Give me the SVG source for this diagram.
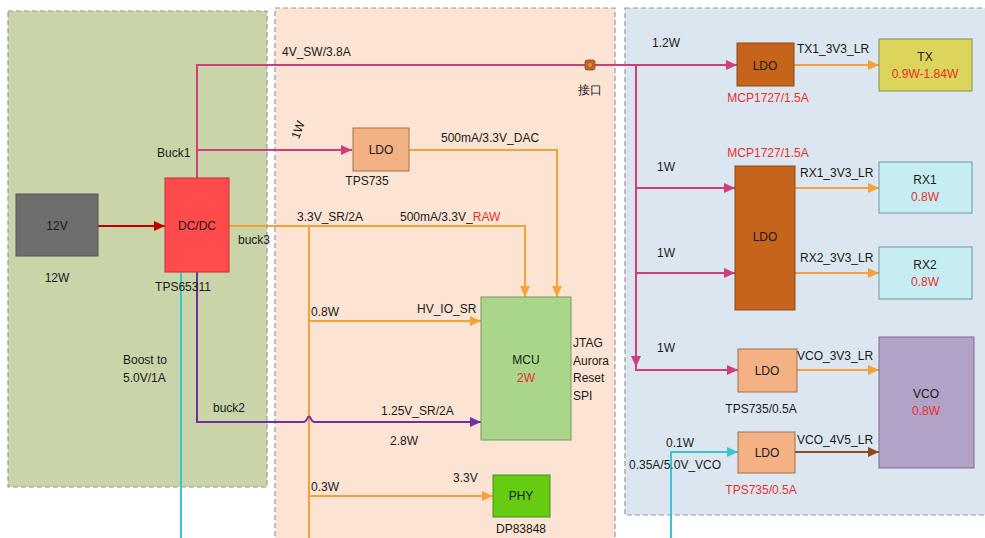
<svg xmlns="http://www.w3.org/2000/svg" width="985" height="538" viewBox="0 0 985 538">
<style>
text{font-family:"Liberation Sans",Arial,sans-serif;font-size:12px;fill:#1a1a1a}
.c{text-anchor:middle}
.r{fill:#e8302a}
.panel{stroke:#9a9a9a;stroke-width:1.2;stroke-dasharray:5,3}
.box{stroke-width:1}
.w{fill:none;stroke-width:2}
.pk{stroke:#cc3f7a}
.or{stroke:#f4a13a}
.pu{stroke:#7030a0}
.cy{stroke:#3cc4d4}
.br{stroke:#8b4a1c}
.dr{stroke:#c00000}
</style>
<defs>
<marker id="aPk" markerUnits="userSpaceOnUse" markerWidth="12" markerHeight="10" refX="11" refY="5" orient="auto"><path d="M0,0 L11,5 L0,10 z" fill="#cc3f7a"/></marker>
<marker id="aOr" markerUnits="userSpaceOnUse" markerWidth="12" markerHeight="10" refX="11" refY="5" orient="auto"><path d="M0,0 L11,5 L0,10 z" fill="#f4a13a"/></marker>
<marker id="aPu" markerUnits="userSpaceOnUse" markerWidth="12" markerHeight="10" refX="11" refY="5" orient="auto"><path d="M0,0 L11,5 L0,10 z" fill="#7030a0"/></marker>
<marker id="aCy" markerUnits="userSpaceOnUse" markerWidth="12" markerHeight="10" refX="11" refY="5" orient="auto"><path d="M0,0 L11,5 L0,10 z" fill="#3cc4d4"/></marker>
<marker id="aBr" markerUnits="userSpaceOnUse" markerWidth="12" markerHeight="10" refX="11" refY="5" orient="auto"><path d="M0,0 L11,5 L0,10 z" fill="#8b4a1c"/></marker>
<marker id="aDr" markerUnits="userSpaceOnUse" markerWidth="12" markerHeight="10" refX="11" refY="5" orient="auto"><path d="M0,0 L11,5 L0,10 z" fill="#c00000"/></marker>
</defs>
<rect width="985" height="538" fill="#ffffff"/>
<g id="panels">
<rect class="panel" x="8" y="11" width="259" height="476" fill="#c9d5a8"/>
<rect class="panel" x="275" y="8" width="340" height="540" fill="#fbe4d4"/>
<rect class="panel" x="625" y="8" width="370" height="507" fill="#dce6f0"/>
</g>
<g id="connectors">
<path class="w dr" d="M98,226 H165" marker-end="url(#aDr)"/>
<path class="w pk" d="M197,178 V65 H737" marker-end="url(#aPk)"/>
<path class="w pk" d="M197,150 H352" marker-end="url(#aPk)"/>
<path class="w pk" d="M636,65 V370 H738" marker-end="url(#aPk)"/>
<path d="M631,356 L641,356 L636,367 z" fill="#cc3f7a"/>
<path class="w pk" d="M636,188 H735" marker-end="url(#aPk)"/>
<path class="w pk" d="M636,273 H735" marker-end="url(#aPk)"/>
<path class="w or" d="M229,226 H525 V297" marker-end="url(#aOr)"/>
<path class="w or" d="M409,150 H557 V297" marker-end="url(#aOr)"/>
<path class="w or" d="M309,226 V538"/>
<path class="w or" d="M309,321 H481" marker-end="url(#aOr)"/>
<path class="w or" d="M309,496 H493" marker-end="url(#aOr)"/>
<path class="w pu" d="M197,272 V422 H303 Q306,422 307,419 Q309,414 311,419 Q312,422 315,422 H481" marker-end="url(#aPu)"/>
<path class="w cy" d="M181,272 V538"/>
<path class="w cy" d="M671,538 V452 H738" marker-end="url(#aCy)"/>
<path class="w or" d="M794,65 H879" marker-end="url(#aOr)"/>
<path class="w or" d="M795,188 H879" marker-end="url(#aOr)"/>
<path class="w or" d="M795,273 H879" marker-end="url(#aOr)"/>
<path class="w or" d="M797,370 H879" marker-end="url(#aOr)"/>
<path class="w br" d="M795,452 H879" marker-end="url(#aBr)"/>
</g>
<g id="n12v">
<rect class="box" x="16" y="194" width="82" height="62" fill="#6e6e6e" stroke="#555"/>
<text class="c" x="57" y="230">12V</text>
<text class="c" x="57" y="282">12W</text>
</g>
<g id="ndcdc">
<rect class="box" x="165" y="178" width="64" height="94" fill="#ff4b4b" stroke="#c03030"/>
<text class="c" x="197" y="230">DC/DC</text>
<text class="c" x="183" y="291">TPS65311</text>
</g>
<g id="nconn">
<rect x="585" y="60" width="10" height="10" rx="2" fill="#c0662a" stroke="#8a4a1a" stroke-width="0.8"/>
<circle cx="590" cy="65" r="2.8" fill="#e08a40" stroke="#8a4a1a" stroke-width="0.6"/>
<text class="c" x="590" y="94">接口</text>
</g>
<g id="nldo1">
<rect class="box" x="353" y="128" width="56" height="43" fill="#f4b183" stroke="#a07050"/>
<text class="c" x="381" y="154">LDO</text>
<text class="c" x="367" y="185">TPS735</text>
</g>
<g id="nmcu">
<rect class="box" x="481" y="297" width="90" height="143" fill="#a9d68a" stroke="#7a9a60"/>
<text class="c" x="526" y="364">MCU</text>
<text class="c r" x="526" y="382">2W</text>
<text x="573" y="347">JTAG</text>
<text x="573" y="365">Aurora</text>
<text x="573" y="382">Reset</text>
<text x="573" y="400">SPI</text>
</g>
<g id="nphy">
<rect class="box" x="493" y="475" width="57" height="42" fill="#66cc11" stroke="#4a8a20"/>
<text class="c" x="521" y="500">PHY</text>
<text class="c" x="521" y="533">DP83848</text>
</g>
<g id="nldo2">
<rect class="box" x="737" y="43" width="57" height="43" fill="#c5641a" stroke="#8a4a1a"/>
<text class="c" x="765" y="70">LDO</text>
<text class="c r" x="768" y="102">MCP1727/1.5A</text>
</g>
<g id="ntx">
<rect class="box" x="879" y="39" width="93" height="52" fill="#dcd55c" stroke="#8a8a50"/>
<text class="c" x="925" y="61">TX</text>
<text class="c r" x="925" y="78">0.9W-1.84W</text>
</g>
<g id="nldo3">
<rect class="box" x="735" y="166" width="60" height="144" fill="#c5641a" stroke="#8a4a1a"/>
<text class="c" x="765" y="241">LDO</text>
<text class="c r" x="768" y="157">MCP1727/1.5A</text>
</g>
<g id="nrx1">
<rect class="box" x="879" y="162" width="93" height="51" fill="#c6eef2" stroke="#6a9aa0"/>
<text class="c" x="925" y="184">RX1</text>
<text class="c r" x="925" y="201">0.8W</text>
</g>
<g id="nrx2">
<rect class="box" x="879" y="247" width="93" height="52" fill="#c6eef2" stroke="#6a9aa0"/>
<text class="c" x="925" y="269">RX2</text>
<text class="c r" x="925" y="286">0.8W</text>
</g>
<g id="nldo4">
<rect class="box" x="738" y="349" width="59" height="43" fill="#f4b183" stroke="#a07050"/>
<text class="c" x="767" y="375">LDO</text>
<text class="c" x="761" y="413">TPS735/0.5A</text>
</g>
<g id="nldo5">
<rect class="box" x="738" y="432" width="57" height="41" fill="#f4b183" stroke="#a07050"/>
<text class="c" x="767" y="457">LDO</text>
<text class="c r" x="761" y="494">TPS735/0.5A</text>
</g>
<g id="nvco">
<rect class="box" x="879" y="337" width="95" height="131" fill="#b3a2c7" stroke="#7a6a90"/>
<text class="c" x="926" y="398">VCO</text>
<text class="c r" x="926" y="415">0.8W</text>
</g>
<g id="labels">
<text x="282" y="56">4V_SW/3.8A</text>
<text x="157" y="157">Buck1</text>
<text class="c" transform="translate(298,130) rotate(-70)" y="4">1W</text>
<text x="441" y="142">500mA/3.3V_DAC</text>
<text x="297" y="221">3.3V_SR/2A</text>
<text x="400" y="221">500mA/3.3V_<tspan class="r">RAW</tspan></text>
<text x="238" y="244">buck3</text>
<text x="123" y="364">Boost to</text>
<text x="123" y="382">5.0V/1A</text>
<text x="213" y="412">buck2</text>
<text x="311" y="316">0.8W</text>
<text x="417" y="313">HV_IO_SR</text>
<text x="381" y="415">1.25V_SR/2A</text>
<text x="390" y="445">2.8W</text>
<text x="453" y="482">3.3V</text>
<text x="311" y="491">0.3W</text>
<text x="652" y="47">1.2W</text>
<text x="797" y="53">TX1_3V3_LR</text>
<text x="657" y="171">1W</text>
<text x="800" y="177">RX1_3V3_LR</text>
<text x="657" y="257">1W</text>
<text x="800" y="262">RX2_3V3_LR</text>
<text x="657" y="352">1W</text>
<text x="797" y="360">VCO_3V3_LR</text>
<text x="666" y="447">0.1W</text>
<text x="629" y="469">0.35A/5.0V_VCO</text>
<text x="797" y="444">VCO_4V5_LR</text>
</g>
</svg>
